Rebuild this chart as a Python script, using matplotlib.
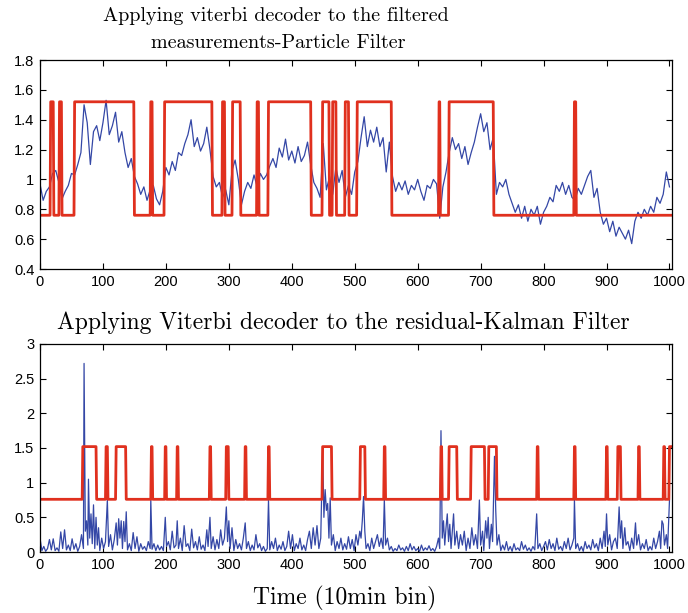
import numpy as np
import matplotlib
matplotlib.use("Agg")
import matplotlib.pyplot as plt
from matplotlib.ticker import FormatStrFormatter

# datos
LOW, HIGH = 0.76, 1.52

# panel superior: medicion filtrada (una muestra cada 5 bins)
t_pf = np.arange(0, 1001, 5)
v_pf = [0.97, 0.86, 0.92, 0.95, 1.04, 1.06, 0.98, 0.87, 0.92, 0.96,
        1.04, 1.03, 1.10, 1.18, 1.50, 1.38, 1.10, 1.32, 1.36, 1.26,
        1.38, 1.53, 1.30, 1.36, 1.45, 1.25, 1.32, 1.18, 1.08, 1.14,
        1.02, 0.97, 0.90, 0.95, 0.86, 0.93, 0.96, 0.87, 0.83, 0.92,
        1.08, 1.03, 1.12, 1.06, 1.18, 1.16, 1.24, 1.30, 1.40, 1.22,
        1.28, 1.19, 1.24, 1.35, 1.20, 1.02, 0.95, 0.98, 0.88, 0.93,
        0.83, 1.06, 1.13, 1.00, 0.83, 0.92, 0.98, 0.94, 1.03, 0.95,
        1.04, 1.00, 1.03, 1.09, 1.14, 1.08, 1.21, 1.15, 1.27, 1.13,
        1.19, 1.11, 1.22, 1.12, 1.16, 1.25, 1.10, 0.98, 0.94, 0.88,
        1.24, 0.93, 1.02, 0.90, 1.08, 0.98, 1.06, 0.88, 0.96, 0.90,
        1.05, 1.12, 1.28, 1.42, 1.22, 1.33, 1.25, 1.35, 1.22, 1.28,
        1.05, 1.25, 1.02, 0.92, 0.98, 0.93, 0.99, 0.90, 0.96, 0.93,
        1.00, 0.92, 0.86, 0.96, 0.94, 1.00, 0.97, 0.74, 0.95, 1.05,
        1.18, 1.28, 1.20, 1.24, 1.14, 1.22, 1.10, 1.18, 1.25, 1.35,
        1.44, 1.32, 1.38, 1.20, 1.28, 0.90, 0.98, 0.95, 1.00, 0.90,
        0.84, 0.78, 0.83, 0.74, 0.82, 0.72, 0.80, 0.76, 0.82, 0.70,
        0.78, 0.82, 0.88, 0.85, 0.96, 0.92, 0.98, 0.90, 0.96, 0.88,
        0.86, 0.94, 0.90, 0.96, 1.02, 1.06, 0.88, 0.94, 0.78, 0.70,
        0.74, 0.65, 0.72, 0.62, 0.68, 0.64, 0.60, 0.66, 0.57, 0.72,
        0.78, 0.74, 0.80, 0.76, 0.82, 0.78, 0.88, 0.84, 0.90, 1.05,
        0.95]

# intervalos en estado alto del decodificador (panel superior)
pf_high_start = [17, 31, 55, 176, 198, 290, 306, 345, 363, 449, 465, 485, 504, 634, 650, 849]
pf_high_end = [21, 34, 149, 178, 273, 293, 318, 347, 430, 459, 470, 490, 558, 635, 720, 851]

# panel inferior: residuo del filtro de Kalman
t_kf = [0, 3, 6, 9, 12, 15, 18, 21, 24, 27, 30, 33, 36, 39, 42, 45, 48, 51, 54, 57,
        60, 63, 66, 69, 70, 72, 74, 76, 77, 79, 81, 83, 85, 87, 89, 91, 93, 95, 98, 101,
        104, 107, 109, 112, 115, 118, 121, 123, 125, 127, 129, 131, 133, 135, 137, 139, 142, 145, 148, 151,
        154, 157, 160, 163, 166, 169, 172, 175, 176, 178, 181, 184, 187, 190, 193, 196, 199, 201, 204, 207,
        210, 213, 216, 218, 220, 223, 226, 229, 232, 235, 238, 241, 244, 247, 250, 253, 256, 259, 262, 265,
        267, 270, 272, 275, 278, 281, 284, 287, 290, 293, 296, 298, 300, 302, 305, 308, 311, 314, 317, 320,
        323, 326, 328, 331, 334, 337, 340, 343, 346, 349, 352, 355, 358, 361, 363, 365, 368, 371, 374, 377,
        380, 383, 386, 389, 392, 395, 398, 401, 404, 407, 410, 413, 416, 419, 422, 425, 428, 431, 434, 437,
        440, 443, 446, 449, 451, 453, 455, 457, 459, 461, 463, 466, 469, 472, 475, 478, 481, 484, 487, 490,
        493, 496, 499, 502, 505, 508, 510, 512, 514, 516, 518, 521, 524, 527, 530, 533, 536, 539, 542, 545,
        547, 549, 552, 555, 558, 561, 564, 567, 570, 573, 576, 579, 582, 585, 588, 591, 594, 597, 600, 603,
        606, 609, 612, 615, 618, 621, 624, 627, 630, 633, 635, 637, 639, 641, 643, 645, 647, 649, 651, 653,
        655, 657, 659, 662, 665, 668, 671, 674, 677, 680, 683, 686, 689, 692, 695, 698, 700, 703, 705, 708,
        710, 712, 714, 717, 719, 722, 724, 726, 729, 732, 735, 738, 741, 744, 747, 750, 753, 756, 759, 762,
        765, 768, 771, 774, 777, 780, 783, 786, 789, 791, 794, 797, 800, 803, 806, 809, 812, 815, 818, 821,
        824, 827, 830, 833, 836, 839, 842, 845, 848, 849, 851, 854, 857, 860, 863, 866, 869, 872, 875, 878,
        881, 884, 887, 890, 893, 896, 898, 900, 902, 905, 908, 911, 914, 917, 920, 922, 924, 926, 929, 931,
        934, 937, 940, 943, 946, 948, 951, 954, 957, 960, 963, 966, 969, 972, 975, 978, 981, 984, 986, 988,
        990, 992, 995, 997, 1000]
v_kf = [0.20, 0.02, 0.08, 0.01, 0.05, 0.18, 0.03, 0.19, 0.02, 0.06, 0.01, 0.29, 0.05, 0.32, 0.03, 0.10, 0.02, 0.19, 0.04, 0.12,
        0.01, 0.08, 0.25, 0.05, 2.72, 0.30, 0.45, 0.10, 1.05, 0.20, 0.55, 0.12, 0.68, 0.05, 0.50, 0.10, 0.35, 0.02, 0.20, 0.05,
        0.15, 0.75, 0.08, 0.25, 0.03, 0.18, 0.42, 0.10, 0.48, 0.20, 0.45, 0.05, 0.44, 0.15, 0.58, 0.03, 0.12, 0.02, 0.28, 0.05,
        0.22, 0.01, 0.12, 0.04, 0.08, 0.02, 0.15, 0.05, 0.76, 0.04, 0.12, 0.02, 0.10, 0.03, 0.08, 0.02, 0.50, 0.08, 0.15, 0.03,
        0.30, 0.06, 0.10, 0.45, 0.05, 0.20, 0.02, 0.38, 0.08, 0.12, 0.02, 0.33, 0.06, 0.15, 0.03, 0.22, 0.04, 0.10, 0.02, 0.32,
        0.08, 0.50, 0.05, 0.22, 0.03, 0.18, 0.05, 0.32, 0.10, 0.20, 0.65, 0.15, 0.45, 0.05, 0.35, 0.02, 0.18, 0.05, 0.12, 0.03,
        0.20, 0.42, 0.05, 0.15, 0.02, 0.10, 0.03, 0.25, 0.06, 0.12, 0.02, 0.08, 0.01, 0.05, 0.75, 0.03, 0.15, 0.05, 0.20, 0.02,
        0.10, 0.04, 0.15, 0.02, 0.08, 0.30, 0.05, 0.25, 0.02, 0.12, 0.05, 0.20, 0.03, 0.10, 0.02, 0.18, 0.30, 0.05, 0.35, 0.10,
        0.38, 0.05, 0.20, 1.52, 0.50, 0.90, 0.60, 0.70, 0.20, 0.78, 0.10, 0.25, 0.02, 0.15, 0.05, 0.20, 0.03, 0.12, 0.04, 0.22,
        0.05, 0.18, 0.02, 0.25, 0.10, 0.30, 0.20, 0.45, 0.80, 0.30, 0.05, 0.12, 0.02, 0.20, 0.05, 0.15, 0.25, 0.08, 0.20, 0.05,
        0.76, 0.10, 0.20, 0.03, 0.08, 0.01, 0.05, 0.02, 0.10, 0.03, 0.06, 0.01, 0.08, 0.02, 0.12, 0.03, 0.08, 0.02, 0.05, 0.01,
        0.10, 0.02, 0.06, 0.03, 0.09, 0.02, 0.05, 0.01, 0.08, 0.20, 0.05, 1.75, 0.20, 0.45, 0.10, 0.35, 0.55, 0.15, 0.40, 0.05,
        0.30, 0.55, 0.10, 0.30, 0.05, 0.25, 0.10, 0.30, 0.02, 0.20, 0.05, 0.35, 0.10, 0.25, 0.05, 0.75, 0.10, 0.30, 0.02, 0.45,
        0.20, 0.50, 0.05, 0.40, 0.15, 1.38, 0.60, 0.10, 0.25, 0.02, 0.10, 0.03, 0.15, 0.02, 0.08, 0.01, 0.12, 0.03, 0.06, 0.02,
        0.15, 0.04, 0.10, 0.02, 0.06, 0.01, 0.08, 0.03, 0.55, 0.05, 0.12, 0.02, 0.08, 0.15, 0.03, 0.18, 0.05, 0.12, 0.02, 0.20,
        0.04, 0.08, 0.02, 0.15, 0.05, 0.20, 0.03, 0.10, 0.20, 0.76, 0.05, 0.12, 0.02, 0.08, 0.01, 0.15, 0.05, 0.10, 0.03, 0.18,
        0.06, 0.12, 0.02, 0.20, 0.05, 0.30, 0.08, 0.55, 0.10, 0.25, 0.03, 0.15, 0.20, 0.05, 0.65, 0.20, 0.45, 0.05, 0.35, 0.10,
        0.15, 0.02, 0.20, 0.05, 0.42, 0.10, 0.25, 0.03, 0.12, 0.05, 0.18, 0.02, 0.08, 0.03, 0.20, 0.05, 0.15, 0.30, 0.05, 0.45,
        0.40, 0.10, 0.25, 0.05, 0.75]

kf_high_start = [68, 105, 121, 177, 199, 218, 270, 296, 326, 363, 449, 509, 547, 637, 650, 685, 713, 790, 849, 900, 918, 951, 991, 1000]
kf_high_end = [89, 107, 136, 178, 200, 219, 271, 299, 327, 364, 463, 516, 548, 638, 662, 706, 725, 791, 850, 901, 922, 952, 992, 1004]

RED = "#e0301e"
BLUE = "#3447a6"


def estados(inicio, fin):
    t = np.arange(0, 1005)
    s = np.full(t.shape, LOW)
    for a, b in zip(inicio, fin):
        s[(t >= a) & (t <= b)] = HIGH
    return t, s


plt.rcParams["font.family"] = ["Liberation Sans", "DejaVu Sans"]
plt.rcParams["font.size"] = 10.5

fig = plt.figure(figsize=(6.88, 6.13), dpi=100)
ax1 = fig.add_axes([40 / 688, 1 - 269 / 613, 632 / 688, 209 / 613])
ax2 = fig.add_axes([40 / 688, 1 - 552 / 613, 632 / 688, 208 / 613])

t1, s1 = estados(pf_high_start, pf_high_end)
ax1.plot(t_pf, v_pf, color=BLUE, lw=0.9)
ax1.plot(t1, s1, color=RED, lw=2.0)
ax1.set_ylim(0.4, 1.8)
ax1.set_yticks(np.arange(0.4, 1.81, 0.2))

t2, s2 = estados(kf_high_start, kf_high_end)
ax2.plot(t_kf, v_kf, color=BLUE, lw=0.9)
ax2.plot(t2, s2, color=RED, lw=2.0)
ax2.set_ylim(0, 3)
ax2.set_yticks(np.arange(0, 3.01, 0.5))

for ax in (ax1, ax2):
    ax.set_xlim(0, 1004)
    ax.set_xticks(np.arange(0, 1001, 100))
    ax.yaxis.set_major_formatter(FormatStrFormatter("%g"))
    ax.tick_params(direction="in", top=True, right=True, length=4, width=0.8, pad=4)
    for sp in ax.spines.values():
        sp.set_linewidth(0.9)

serif = ["cmr10", "DejaVu Serif"]
fig.text(276 / 688, 1 - 16 / 613, "Applying viterbi decoder to the filtered", family=serif,
         fontsize=14.5, ha="center", va="center")
fig.text(278 / 688, 1 - 43 / 613, "measurements-Particle Filter", family=serif,
         fontsize=14.5, ha="center", va="center")
fig.text(343 / 688, 1 - 323 / 613, "Applying Viterbi decoder to the residual-Kalman Filter", family=serif,
         fontsize=17, ha="center", va="center")
fig.text(345 / 688, 1 - 598 / 613, "Time (10min bin)", family=serif,
         fontsize=17, ha="center", va="center")

fig.savefig("out.png", dpi=100)
